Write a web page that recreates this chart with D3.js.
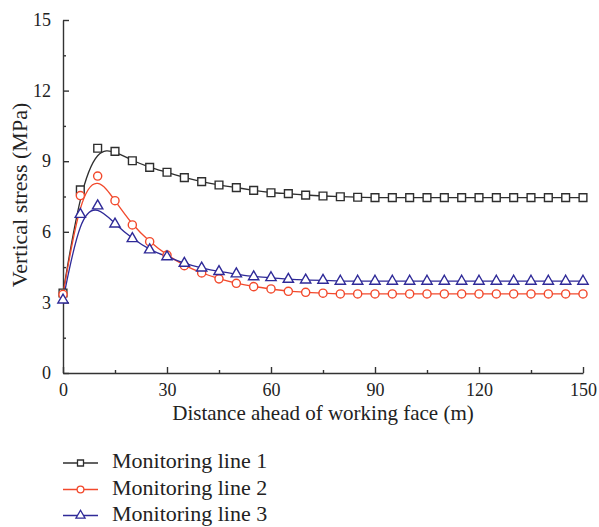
<!DOCTYPE html>
<html>
<head>
<meta charset="utf-8">
<script src="https://cdn.jsdelivr.net/npm/d3@7"></script>
<style>
  body { margin: 0; background: #fff; }
  svg { display: block; }
  text { font-family: "Liberation Serif", "DejaVu Serif", serif; fill: #222; }
</style>
</head>
<body>
<svg id="chart" width="599" height="527"></svg>
<script>
// distance ahead of working face (m), one sample every 5 m
const distance = d3.range(0, 151, 5);

// vertical stress (MPa)
const line1 = [3.4, 7.78, 9.55, 9.42, 9.02, 8.74, 8.53, 8.30, 8.13, 7.99, 7.88, 7.76, 7.66, 7.62, 7.56, 7.52,
  7.49, 7.47, 7.45, 7.45, 7.45, 7.45, 7.45, 7.45, 7.45, 7.45, 7.45, 7.45, 7.45, 7.45, 7.45];
const line2 = [3.34, 7.54, 8.37, 7.32, 6.29, 5.58, 5.01, 4.56, 4.25, 4.0, 3.81, 3.67, 3.57, 3.47, 3.43, 3.39,
  3.36, 3.36, 3.36, 3.36, 3.36, 3.36, 3.36, 3.36, 3.36, 3.36, 3.36, 3.36, 3.36, 3.36, 3.36];
const line3 = [3.1, 6.74, 7.10, 6.33, 5.71, 5.23, 4.94, 4.66, 4.46, 4.31, 4.21, 4.09, 4.05, 3.98, 3.95, 3.94,
  3.90, 3.90, 3.90, 3.90, 3.90, 3.90, 3.90, 3.90, 3.90, 3.90, 3.90, 3.90, 3.90, 3.90, 3.90];

const seriesNames = ["Monitoring line 1", "Monitoring line 2", "Monitoring line 3"];
const seriesColors = ["#2e2e2e", "#f2492c", "#2f2a98"];
const seriesSymbols = [d3.symbolSquare, d3.symbolCircle, d3.symbolTriangle];

const xTicks = [0, 30, 60, 90, 120, 150];
const xMinor = [15, 45, 75, 105, 135];
const yTicks = [0, 3, 6, 9, 12, 15];
const yMinor = [1.5, 4.5, 7.5, 10.5, 13.5];

const series = [line1, line2, line3].map((vals, i) => ({
  name: seriesNames[i],
  color: seriesColors[i],
  symbol: seriesSymbols[i],
  points: vals.map((v, j) => ({ x: distance[j], y: v })),
}));

const svg = d3.select("#chart");
svg.append("rect").attr("width", 599).attr("height", 527).attr("fill", "#fff");

const x = d3.scaleLinear().domain([0, 150]).range([63, 583]);
const y = d3.scaleLinear().domain([0, 15]).range([373, 20]);

// axes, ticks pointing inward
svg.append("g")
  .attr("transform", `translate(0,${y(0)})`)
  .call(d3.axisBottom(x).tickValues(xTicks).tickSizeInner(-6).tickSizeOuter(0).tickPadding(10));
svg.append("g")
  .attr("transform", `translate(0,${y(0)})`)
  .call(d3.axisBottom(x).tickValues(xMinor).tickSize(-3).tickFormat(""))
  .call((g) => g.select(".domain").remove());

svg.append("g")
  .attr("transform", `translate(${x(0)},0)`)
  .call(d3.axisLeft(y).tickValues(yTicks).tickSizeInner(-6).tickSizeOuter(0).tickPadding(12));
svg.append("g")
  .attr("transform", `translate(${x(0)},0)`)
  .call(d3.axisLeft(y).tickValues(yMinor).tickSize(-3).tickFormat(""))
  .call((g) => g.select(".domain").remove());

svg.selectAll(".domain, .tick line").attr("stroke", "#333").attr("stroke-width", 1.4);
svg.selectAll(".tick text").attr("font-size", 18).attr("font-family", "Liberation Serif, serif").attr("fill", "#222");

// axis titles
svg.append("text")
  .attr("x", (x(0) + x(150)) / 2)
  .attr("y", 420)
  .attr("text-anchor", "middle")
  .attr("font-size", 21)
  .text("Distance ahead of working face (m)");

svg.append("text")
  .attr("transform", `translate(27,195) rotate(-90)`)
  .attr("text-anchor", "middle")
  .attr("font-size", 22)
  .text("Vertical stress (MPa)");

// smoothed lines (B-spline like the original)
const line = d3.line()
  .x((d) => x(d.x))
  .y((d) => y(d.y))
  .curve(d3.curveBasis);

const plot = svg.append("g");

series.forEach((s) => {
  plot.append("path")
    .datum(s.points)
    .attr("fill", "none")
    .attr("stroke", s.color)
    .attr("stroke-width", 1.3)
    .attr("d", line);
});

series.forEach((s) => {
  const size = s.symbol === d3.symbolTriangle ? 46 : s.symbol === d3.symbolCircle ? 52 : 60;
  plot.append("g")
    .selectAll("path")
    .data(s.points)
    .join("path")
    .attr("transform", (d) => `translate(${x(d.x)},${y(d.y)})`)
    .attr("d", d3.symbol().type(s.symbol).size(size))
    .attr("fill", "#fff")
    .attr("stroke", s.color)
    .attr("stroke-width", 1.4);
});

// legend
const legend = svg.append("g");
const legendBase = [468, 494.5, 520.5];
series.forEach((s, i) => {
  const row = legend.append("g").attr("transform", `translate(0,${legendBase[i]})`);
  row.append("line")
    .attr("x1", 63).attr("x2", 98)
    .attr("y1", -5).attr("y2", -5)
    .attr("stroke", s.color).attr("stroke-width", 1.3);
  row.append("path")
    .attr("transform", "translate(80.5,-5)")
    .attr("d", d3.symbol().type(s.symbol).size(36))
    .attr("fill", "#fff")
    .attr("stroke", s.color)
    .attr("stroke-width", 1.3);
  row.append("text")
    .attr("x", 112)
    .attr("y", 0)
    .attr("font-size", 22)
    .text(s.name);
});
</script>
</body>
</html>
